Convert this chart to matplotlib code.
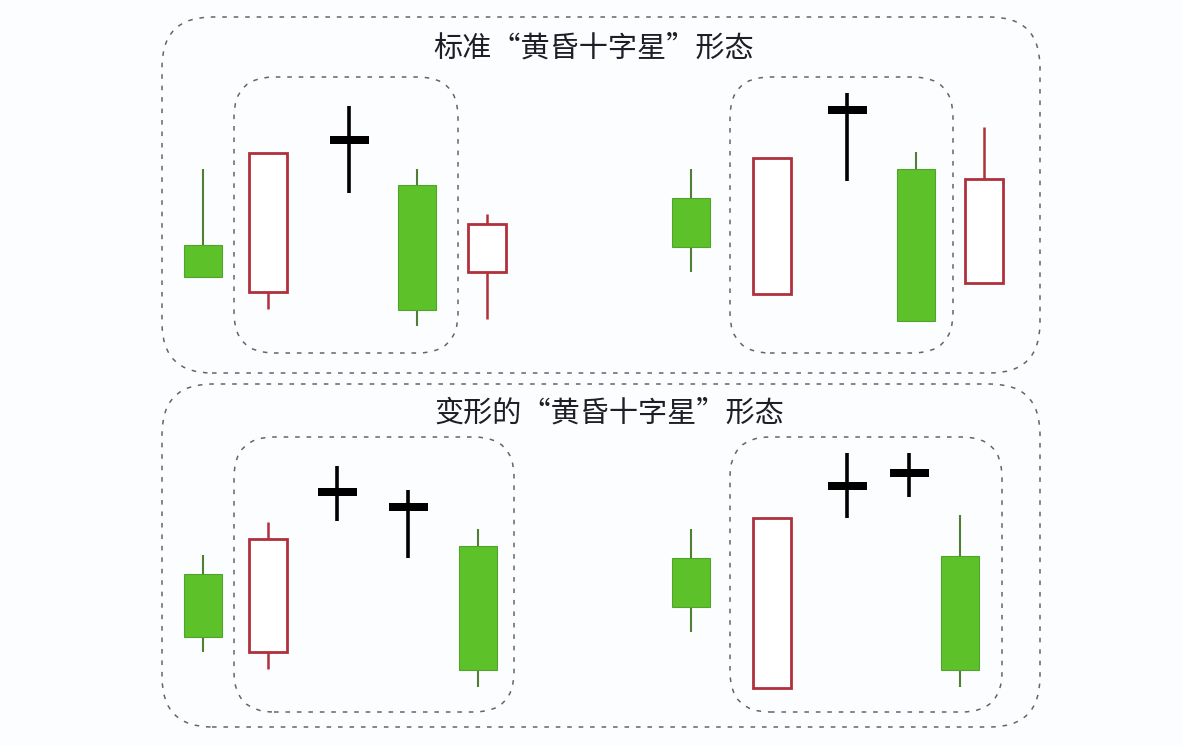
import matplotlib.pyplot as plt
from matplotlib.patches import FancyBboxPatch, Rectangle

plt.rcParams['font.family'] = ['Noto Sans CJK SC', 'DejaVu Sans']

H = 746

# candle data (price units, higher = up)
top_open = [501, 454, 606, 561, 474, 548, 452, 636, 577, 463]
top_close = [469, 593, 606, 436, 522, 499, 588, 636, 425, 567]
top_high = [577, 593, 640, 577, 532, 577, 588, 653, 594, 619]
top_low = [469, 437, 553, 420, 427, 474, 452, 565, 425, 463]
top_kind = ['down', 'up', 'doji', 'down', 'up', 'down', 'up', 'doji', 'down', 'up']

bot_open = [172, 94, 254, 239, 200, 188, 58, 260, 273, 190]
bot_close = [109, 207, 254, 239, 76, 139, 228, 260, 273, 76]
bot_high = [191, 224, 280, 256, 217, 217, 228, 293, 293, 231]
bot_low = [94, 77, 225, 188, 59, 114, 58, 228, 249, 59]
bot_kind = ['down', 'up', 'doji', 'doji', 'down', 'down', 'up', 'doji', 'doji', 'down']

titles = ['标准“黄昏十字星”形态', '变形的“黄昏十字星”形态']

# layout
top_x = [203, 267.5, 349, 417.4, 486.5, 690.6, 771.6, 847, 915.6, 983.6]
bot_x = [203, 267.5, 337, 408, 477.6, 690.6, 771.6, 847, 909, 959.7]
body_w = 38
doji_w = 39
doji_h = 8

GREEN = '#5dc12a'
GREEN_EDGE = '#52a32c'
WICK_GREEN = '#4f7f34'
RED = '#b0303c'
DASH = '#5f6670'

fig = plt.figure(figsize=(11.82, 7.46), dpi=100)
fig.patch.set_facecolor('#fcfdff')
ax = fig.add_axes([0, 0, 1, 1])
ax.set_xlim(0, 1182)
ax.set_ylim(0, H)
ax.axis('off')


def box(x0, y0, x1, y1, r):
    # pixel coords (y downwards) -> price coords
    p = FancyBboxPatch((x0, H - y1), x1 - x0, y1 - y0,
                       boxstyle='round,pad=0,rounding_size=%d' % r,
                       fill=False, edgecolor=DASH, linewidth=1.1,
                       linestyle=(0, (3, 4.5)))
    ax.add_patch(p)


box(162, 17, 1040, 373, 50)
box(234, 77, 458, 353, 40)
box(730, 77, 953, 353, 40)
box(162, 384, 1040, 727, 50)
box(234, 437, 514, 712, 40)
box(730, 437, 1002, 712, 40)


def candles(xs, o, c, hi, lo, kinds):
    for x, op, cl, h, l, k in zip(xs, o, c, hi, lo, kinds):
        if k == 'doji':
            ax.plot([x, x], [l, h], color='black', lw=2.6, solid_capstyle='butt')
            ax.add_patch(Rectangle((x - doji_w / 2, op - doji_h / 2), doji_w, doji_h,
                                   facecolor='black', edgecolor='none'))
        elif k == 'down':
            ax.plot([x, x], [l, h], color=WICK_GREEN, lw=1.5, solid_capstyle='butt', zorder=1)
            ax.add_patch(Rectangle((x - body_w / 2, cl), body_w, op - cl,
                                   facecolor=GREEN, edgecolor=GREEN_EDGE, lw=0.8, zorder=2))
        else:
            ax.plot([x, x], [l, h], color=RED, lw=1.8, solid_capstyle='butt', zorder=1)
            ax.add_patch(Rectangle((x - body_w / 2, op), body_w, cl - op,
                                   facecolor='white', edgecolor=RED, lw=2.0, zorder=2))


candles(top_x, top_open, top_close, top_high, top_low, top_kind)
candles(bot_x, bot_open, bot_close, bot_high, bot_low, bot_kind)

ax.text(594, H - 49, titles[0], ha='center', va='center', fontsize=21, color='#1e1e26')
ax.text(609, H - 414, titles[1], ha='center', va='center', fontsize=21, color='#1e1e26')

fig.savefig('out.png', dpi=100, facecolor=fig.get_facecolor())
